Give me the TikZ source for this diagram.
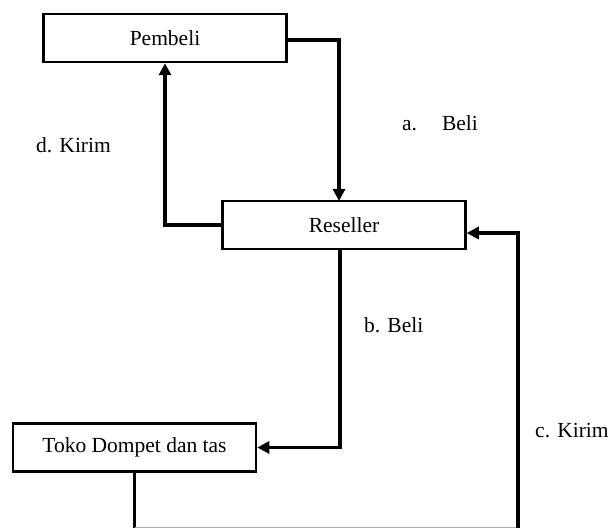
\documentclass[tikz,border=0pt]{standalone}
\usepackage{fontspec}
\setmainfont{Liberation Serif}
\usetikzlibrary{arrows.meta}
\begin{document}
\begin{tikzpicture}[x=1pt,y=-1pt,
  box/.style={draw, line width=2.5pt, minimum width=243pt, minimum height=48pt, inner sep=0pt, font=\fontsize{21.5}{24}\selectfont},
  conn/.style={line width=3.8pt, -{Triangle[length=12pt,width=12pt]}},
  lbl/.style={font=\fontsize{21.5}{24}\selectfont, inner sep=0pt}]
\useasboundingbox (0,0) rectangle (611,529);
\node[box] (pembeli) at (165,38) {Pembeli};
\node[box] (reseller) at (344,225) {Reseller};
\node[box] (toko) at (134.5,447.5) {Toko Dompet dan tas};
\coordinate (c1) at (134.5,527.5);
\coordinate (c2) at (518,527.5);
% a. Beli
\draw[conn] (pembeli.east |- 0,40) -| (339,201);
% d. Kirim
\draw[conn] (reseller.west) -| (pembeli.south);
% b. Beli
\draw[conn] (340,249) |- (toko.east);
% c. Kirim
\draw[line width=3.8pt] (toko.south) -- (c1);
\draw[line width=1pt, gray!60] (c1) -- (c2);
\draw[conn] (c2) |- (reseller.east |- 0,233);
\node[lbl, anchor=west] (la) at (402,123) {a.\hspace{25pt}Beli};
\node[lbl, anchor=west] (ld) at (36,145) {d. Kirim};
\node[lbl, anchor=west] (lb) at (364,325) {b. Beli};
\node[lbl, anchor=west] (lc) at (535,431) {c. Kirim};
\end{tikzpicture}
\end{document}
